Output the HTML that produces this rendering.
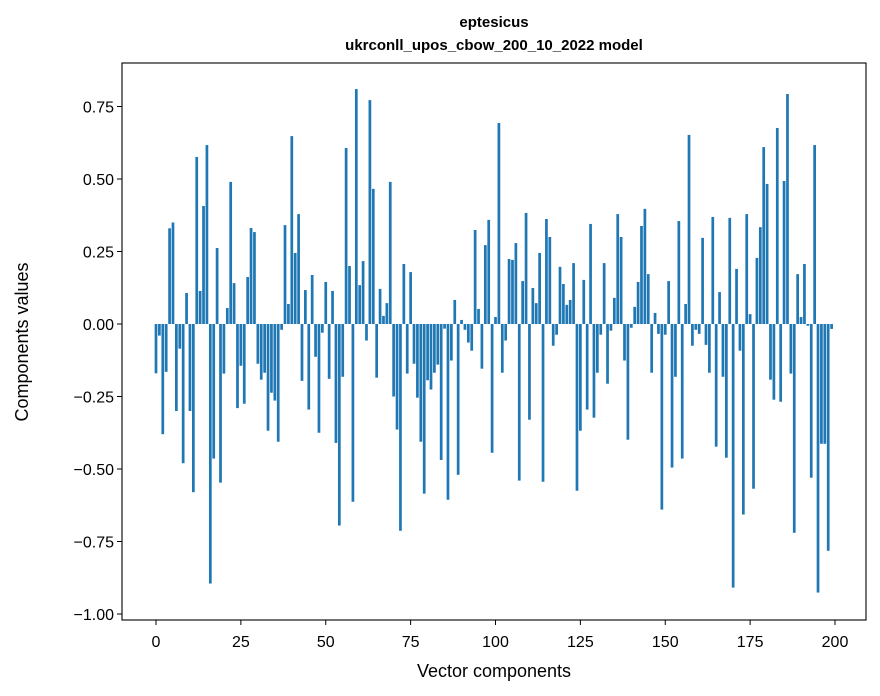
<!DOCTYPE html>
<html><head><meta charset="utf-8"><style>
html,body{margin:0;padding:0;background:#fff;}
svg{display:block;font-family:"Liberation Sans","DejaVu Sans",sans-serif;}
</style></head><body>
<svg id="chart" width="880" height="696" viewBox="0 0 880 696" xmlns="http://www.w3.org/2000/svg">
<rect width="880" height="696" fill="#fff"/>
<text x="494" y="27" text-anchor="middle" font-size="15" font-weight="bold">eptesicus</text>
<text x="494" y="50" text-anchor="middle" font-size="15" font-weight="bold">ukrconll_upos_cbow_200_10_2022 model</text>
<g id="bars"></g>
<g id="axes"></g>
<rect x="122" y="63" width="744" height="557" fill="none" stroke="#000" stroke-width="1.1"/>
<text x="494" y="677" text-anchor="middle" font-size="18">Vector components</text>
<text x="28" y="342" text-anchor="middle" font-size="18" transform="rotate(-90 28 342)">Components values</text>
</svg>
<script>
const values = [
-0.17,-0.04,-0.38,-0.165,0.33,0.35,-0.30,-0.085,-0.48,0.107,
-0.30,-0.58,0.576,0.114,0.407,0.617,-0.895,-0.464,0.262,-0.547,
-0.171,0.055,0.49,0.141,-0.29,-0.144,-0.275,0.162,0.331,0.317,
-0.137,-0.192,-0.168,-0.368,-0.237,-0.264,-0.406,-0.02,0.341,0.069,
0.648,0.245,0.379,-0.196,0.117,-0.295,0.169,-0.113,-0.375,-0.03,
0.145,-0.189,0.114,-0.41,-0.695,-0.182,0.607,0.2,-0.613,0.81,
0.134,0.217,-0.057,0.772,0.466,-0.185,0.121,0.028,0.072,0.49,
-0.25,-0.364,-0.713,0.207,-0.171,0.179,-0.137,-0.254,-0.406,-0.585,
-0.194,-0.226,-0.168,-0.14,-0.469,-0.016,-0.606,-0.126,0.083,-0.52,
0.014,-0.02,-0.064,-0.092,0.324,0.052,-0.154,0.272,0.359,-0.444,
0.024,0.693,-0.168,-0.057,0.224,0.221,0.279,-0.54,0.148,0.383,
-0.33,0.124,0.072,0.245,-0.544,0.362,0.3,-0.075,-0.037,0.197,
0.138,0.066,0.083,0.21,-0.575,-0.368,0.152,-0.295,0.345,-0.323,
-0.168,-0.037,0.21,-0.206,-0.023,0.09,0.379,0.3,-0.126,-0.399,
-0.013,0.059,0.145,0.338,0.397,0.172,-0.168,0.038,-0.034,-0.64,
-0.037,0.148,-0.495,-0.182,0.355,-0.464,0.069,0.652,-0.075,-0.02,
-0.034,0.297,-0.072,-0.168,0.369,-0.423,0.11,-0.182,-0.461,0.366,
-0.909,0.19,-0.092,-0.657,0.379,0.034,-0.568,0.228,0.334,0.61,
0.483,-0.192,-0.261,0.676,-0.268,0.493,0.793,-0.171,-0.72,0.172,
0.024,0.207,-0.006,-0.53,0.617,-0.926,-0.413,-0.413,-0.782,-0.017
];
const xTicks = [0,25,50,75,100,125,150,175,200];
const yTicks = [0.75,0.5,0.25,0,-0.25,-0.5,-0.75,-1.0];
const yTickLabels = ["0.75","0.50","0.25","0.00","\u22120.25","\u22120.50","\u22120.75","\u22121.00"];

const NS = "http://www.w3.org/2000/svg";
const xScale = v => 156 + v * 3.395;
const yScale = v => 324 - v * 290;
const barW = 0.8 * 3.395;
const barsG = document.getElementById('bars');
values.forEach((v, i) => {
  const r = document.createElementNS(NS, 'rect');
  const y0 = yScale(0), y1 = yScale(v);
  r.setAttribute('x', xScale(i) - barW / 2);
  r.setAttribute('y', Math.min(y0, y1));
  r.setAttribute('width', barW);
  r.setAttribute('height', Math.abs(y1 - y0));
  r.setAttribute('fill', '#1f77b4');
  
  
  barsG.appendChild(r);
});
const axesG = document.getElementById('axes');
xTicks.forEach(t => {
  const x = xScale(t);
  const l = document.createElementNS(NS, 'line');
  l.setAttribute('x1', x); l.setAttribute('x2', x);
  l.setAttribute('y1', 620); l.setAttribute('y2', 625);
  l.setAttribute('stroke', '#000');
  
  
  axesG.appendChild(l);
  const tx = document.createElementNS(NS, 'text');
  tx.setAttribute('x', x); tx.setAttribute('y', 647);
  tx.setAttribute('text-anchor', 'middle'); tx.setAttribute('font-size', '16');
  tx.textContent = String(t);
  
  
  axesG.appendChild(tx);
});
yTicks.forEach((t, k) => {
  const y = yScale(t);
  const l = document.createElementNS(NS, 'line');
  l.setAttribute('x1', 117); l.setAttribute('x2', 122);
  l.setAttribute('y1', y); l.setAttribute('y2', y);
  l.setAttribute('stroke', '#000');
  
  
  axesG.appendChild(l);
  const tx = document.createElementNS(NS, 'text');
  tx.setAttribute('x', 114); tx.setAttribute('y', y + 6);
  tx.setAttribute('text-anchor', 'end'); tx.setAttribute('font-size', '16');
  tx.textContent = yTickLabels[k];
  
  
  axesG.appendChild(tx);
});
</script>
</body></html>
